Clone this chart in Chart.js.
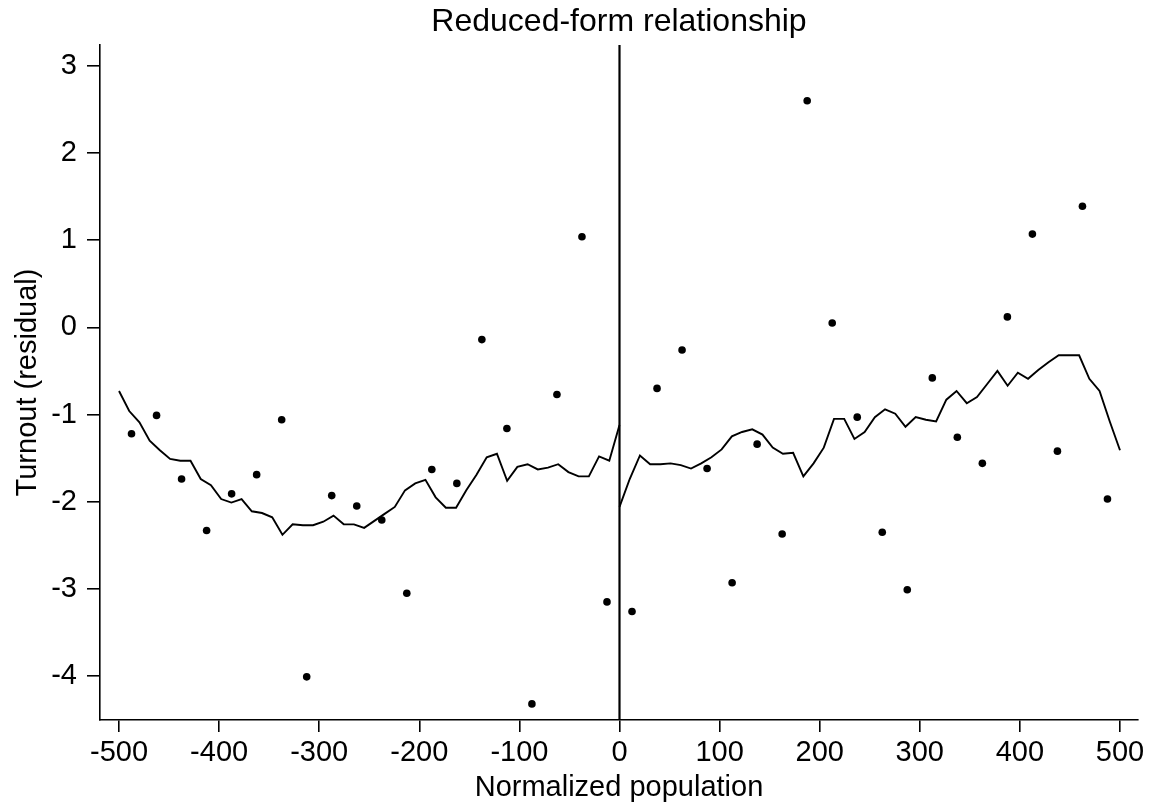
<!DOCTYPE html>
<html>
<head>
<meta charset="utf-8">
<title>Reduced-form relationship</title>
<script src="https://cdn.jsdelivr.net/npm/chart.js@4"></script>
<style>
  html, body { margin: 0; padding: 0; background: #fff; }
  canvas { display: block; }
</style>
</head>
<body>
<canvas id="chart" width="1153" height="807"></canvas>
<script>
// bin means (25-wide bins of the running variable)
const binCenters = [
  -487.5, -462.5, -437.5, -412.5, -387.5, -362.5, -337.5, -312.5, -287.5, -262.5,
  -237.5, -212.5, -187.5, -162.5, -137.5, -112.5, -87.5, -62.5, -37.5, -12.5,
  12.5, 37.5, 62.5, 87.5, 112.5, 137.5, 162.5, 187.5, 212.5, 237.5,
  262.5, 287.5, 312.5, 337.5, 362.5, 387.5, 412.5, 437.5, 462.5, 487.5
];
const binMeans = [
  -1.22, -1.01, -1.74, -2.33, -1.91, -1.69, -1.06, -4.01, -1.93, -2.05,
  -2.21, -3.05, -1.63, -1.79, -0.14, -1.16, -4.32, -0.77, 1.04, -3.15,
  -3.26, -0.70, -0.26, -1.62, -2.93, -1.34, -2.37, 2.60, 0.05, -1.03,
  -2.35, -3.01, -0.58, -1.26, -1.56, 0.12, 1.07, -1.42, 1.39, -1.97
];

// local fit, 50 evaluation points on each side of the cutoff
const fitPoints = 50;
const fitLeft = [
  -0.73, -0.96, -1.09, -1.30, -1.41, -1.51, -1.53, -1.53, -1.74, -1.81,
  -1.97, -2.01, -1.97, -2.11, -2.13, -2.18, -2.38, -2.26, -2.27, -2.27,
  -2.23, -2.16, -2.26, -2.26, -2.30, -2.22, -2.14, -2.06, -1.87, -1.79,
  -1.75, -1.95, -2.07, -2.07, -1.87, -1.69, -1.49, -1.45, -1.76, -1.60,
  -1.57, -1.63, -1.61, -1.57, -1.66, -1.71, -1.71, -1.48, -1.53, -1.12
];
const fitRight = [
  -2.06, -1.74, -1.47, -1.57, -1.57, -1.56, -1.58, -1.62, -1.56, -1.49,
  -1.40, -1.25, -1.20, -1.17, -1.23, -1.38, -1.45, -1.44, -1.71, -1.56,
  -1.38, -1.05, -1.05, -1.28, -1.20, -1.03, -0.94, -0.99, -1.14, -1.03,
  -1.06, -1.08, -0.83, -0.73, -0.87, -0.80, -0.65, -0.50, -0.67, -0.52,
  -0.59, -0.49, -0.40, -0.32, -0.32, -0.32, -0.59, -0.73, -1.08, -1.41
];

const cutoff = 0;
const xTicks = [-500, -400, -300, -200, -100, 0, 100, 200, 300, 400, 500];
const yTicks = [-4, -3, -2, -1, 0, 1, 2, 3];
const xRange = [-519, 518];
const yRange = [-4.505, 3.24];
const chartTitle = "Reduced-form relationship";

const font = "'Liberation Sans', Arial, Helvetica, sans-serif";

// evaluation grid from `from` to `to`
function fitSeries(values, from, to) {
  const step = (to - from) / (fitPoints - 1);
  return values.map((y, i) => ({ x: from + i * step, y }));
}

const scatter = binCenters.map((x, i) => ({ x, y: binMeans[i] }));

// title centred over the plot region rather than the whole canvas
const plotTitle = {
  id: "plotTitle",
  afterDraw(chart) {
    const { ctx, chartArea } = chart;
    ctx.save();
    ctx.fillStyle = "#000";
    ctx.font = "32px " + font;
    ctx.textAlign = "center";
    ctx.textBaseline = "middle";
    ctx.fillText(chartTitle, (chartArea.left + chartArea.right) / 2, 22);
    ctx.restore();
  },
};

new Chart(document.getElementById("chart"), {
  type: "scatter",
  data: {
    datasets: [
      {
        data: scatter,
        pointRadius: 3.8,
        pointBackgroundColor: "#000",
        pointBorderWidth: 0,
        showLine: false,
      },
      {
        data: fitSeries(fitLeft, -500, cutoff),
        showLine: true,
        borderColor: "#000",
        borderWidth: 1.9,
        pointRadius: 0,
        tension: 0,
      },
      {
        data: fitSeries(fitRight, cutoff, 500),
        showLine: true,
        borderColor: "#000",
        borderWidth: 1.9,
        pointRadius: 0,
        tension: 0,
      },
      {
        // cutoff line
        data: [{ x: cutoff, y: yRange[0] }, { x: cutoff, y: yRange[1] }],
        showLine: true,
        borderColor: "#000",
        borderWidth: 2.2,
        pointRadius: 0,
      },
    ],
  },
  plugins: [plotTitle],
  options: {
    responsive: false,
    animation: false,
    layout: { padding: { left: 0, right: 15, top: 45, bottom: 0 } },
    plugins: {
      legend: { display: false },
      tooltip: { enabled: false },
      title: { display: false },
    },
    scales: {
      x: {
        type: "linear",
        min: xRange[0],
        max: xRange[1],
        afterBuildTicks: (scale) => { scale.ticks = xTicks.map((v) => ({ value: v })); },
        afterFit: (scale) => { scale.height = 87; },
        grid: { display: true, drawOnChartArea: false, drawTicks: true, tickLength: 12, color: "#000", lineWidth: 1.6 },
        border: { display: true, color: "#000", width: 1.6 },
        ticks: { color: "#000", font: { family: font, size: 29 }, padding: 4, maxRotation: 0 },
        title: {
          display: true,
          text: "Normalized population",
          color: "#000",
          font: { family: font, size: 29 },
          padding: { top: 0, bottom: 1.5 },
        },
      },
      y: {
        type: "linear",
        min: yRange[0],
        max: yRange[1],
        afterBuildTicks: (scale) => { scale.ticks = yTicks.map((v) => ({ value: v })); },
        afterFit: (scale) => { scale.width = 100; },
        grid: { display: true, drawOnChartArea: false, drawTicks: true, tickLength: 13, color: "#000", lineWidth: 1.6 },
        border: { display: true, color: "#000", width: 1.6 },
        ticks: { color: "#000", font: { family: font, size: 29 }, padding: 10 },
        title: {
          display: true,
          text: "Turnout (residual)",
          color: "#000",
          font: { family: font, size: 29 },
          padding: { top: 11, bottom: 0 },
        },
      },
    },
  },
});
</script>
</body>
</html>
